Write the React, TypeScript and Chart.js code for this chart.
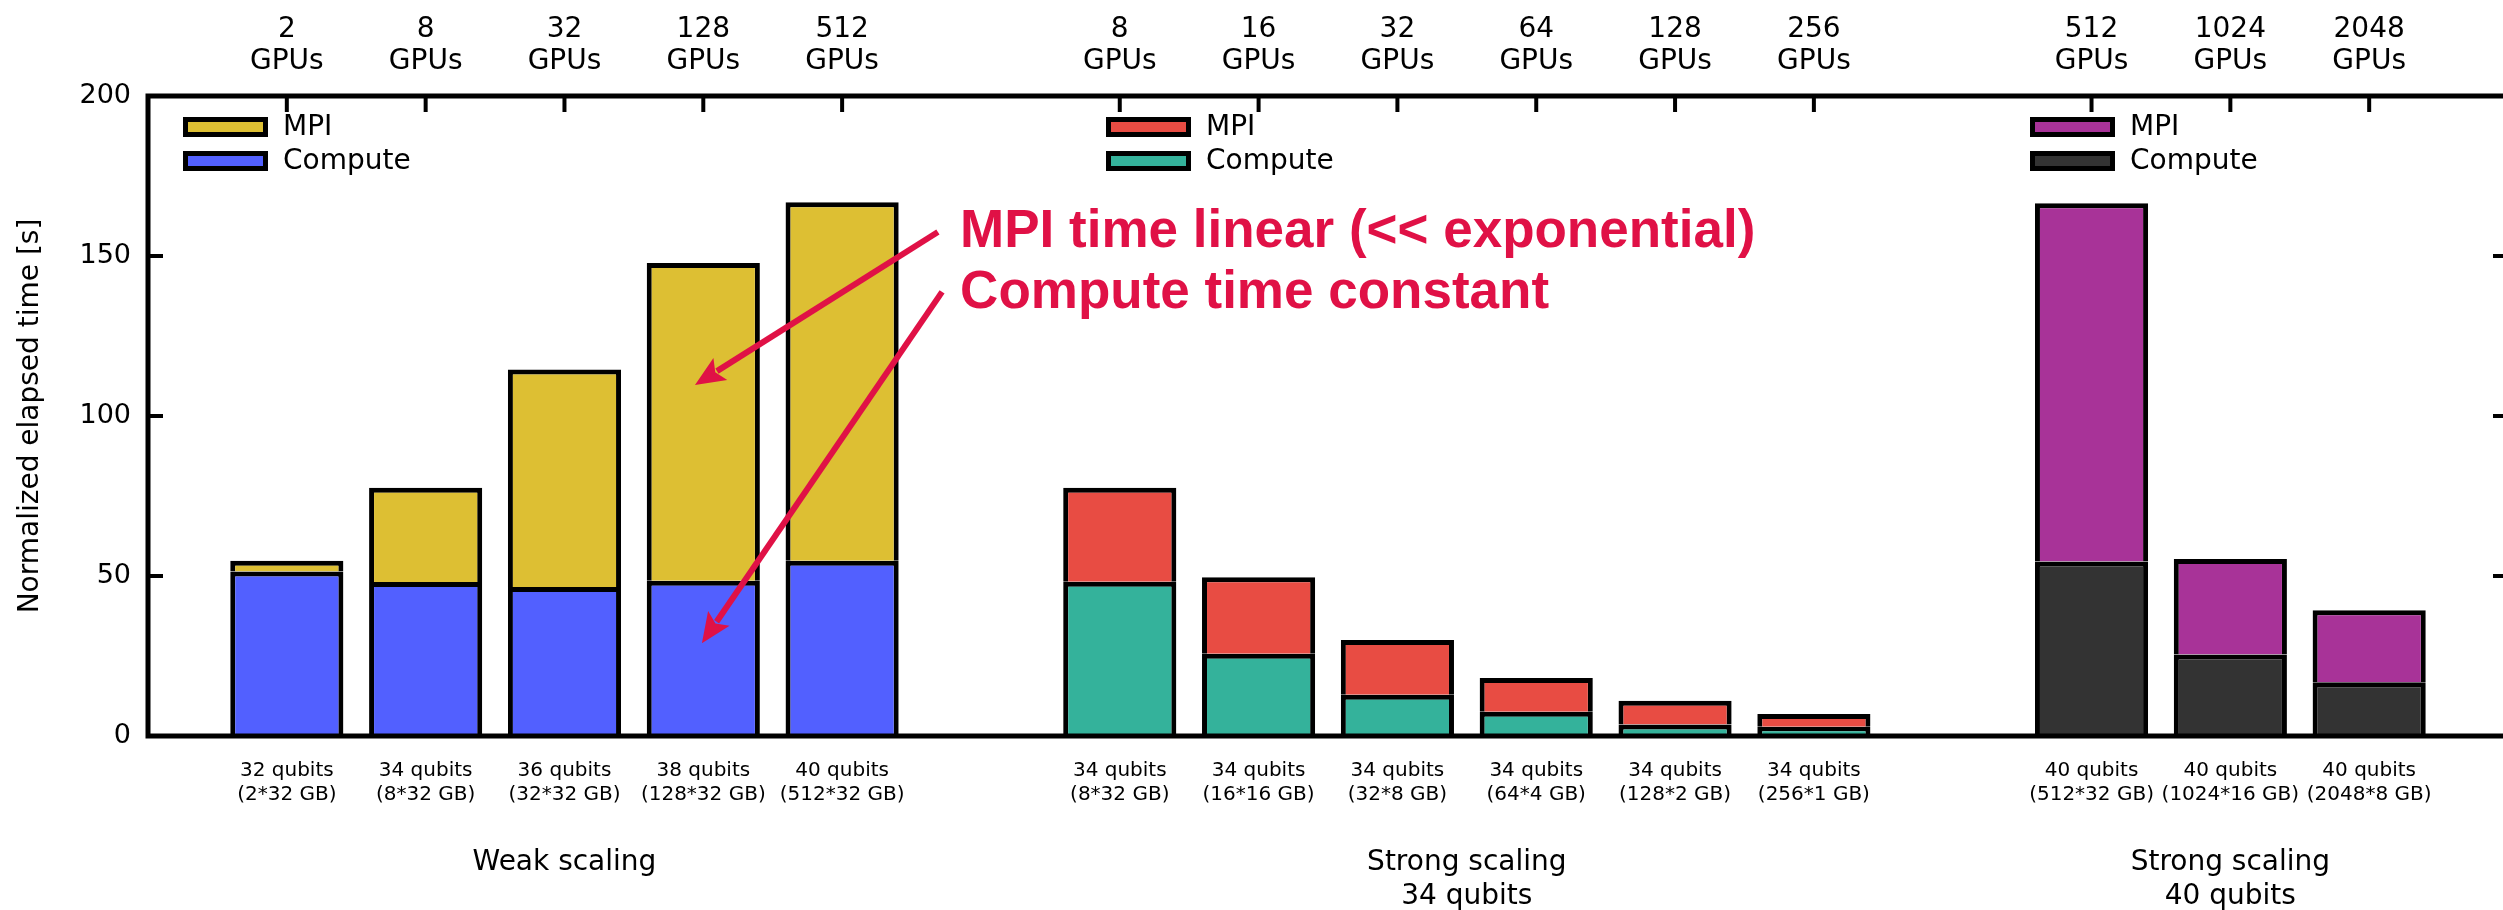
import React, { useEffect, useRef } from 'react';
import { Chart, registerables } from 'chart.js';

Chart.register(...registerables);

// ---------- data ----------
const weakGPUs = ['2', '8', '32', '128', '512'];
const strong34GPUs = ['8', '16', '32', '64', '128', '256'];
const strong40GPUs = ['512', '1024', '2048'];

const weakLabels = [
  ['32 qubits', '(2*32 GB)'],
  ['34 qubits', '(8*32 GB)'],
  ['36 qubits', '(32*32 GB)'],
  ['38 qubits', '(128*32 GB)'],
  ['40 qubits', '(512*32 GB)'],
];
const strong34Labels = [
  ['34 qubits', '(8*32 GB)'],
  ['34 qubits', '(16*16 GB)'],
  ['34 qubits', '(32*8 GB)'],
  ['34 qubits', '(64*4 GB)'],
  ['34 qubits', '(128*2 GB)'],
  ['34 qubits', '(256*1 GB)'],
];
const strong40Labels = [
  ['40 qubits', '(512*32 GB)'],
  ['40 qubits', '(1024*16 GB)'],
  ['40 qubits', '(2048*8 GB)'],
];

const groupTitles = [['Weak scaling'], ['Strong scaling', '34 qubits'], ['Strong scaling', '40 qubits']];

const weakCompute = [51.4, 48.1, 46.6, 48.5, 54.8];
const weakMPI = [3.4, 29.5, 67.9, 99.3, 112.0];
const strong34Compute = [48.2, 25.7, 12.9, 7.6, 3.6, 2.9];
const strong34MPI = [29.4, 23.9, 17.1, 10.5, 7.4, 4.0];
const strong40Compute = [54.5, 25.5, 16.8];
const strong40MPI = [112.0, 29.8, 22.5];

const seriesNames = ['MPI', 'Compute'];
const computeColors = ['#5260FF', '#34B29B', '#333333'];
const mpiColors = ['#DDBF33', '#E84C43', '#A83398'];

const yTicks = [0, 50, 100, 150, 200];

const annotationLines = ['MPI time linear (<< exponential)', 'Compute time constant'];

// ---------- build category slots ----------
const groupGPUs = [weakGPUs, strong34GPUs, strong40GPUs];
const groupLabels = [weakLabels, strong34Labels, strong40Labels];
const groupCompute = [weakCompute, strong34Compute, strong40Compute];
const groupMPI = [weakMPI, strong34MPI, strong40MPI];

const groupStart: number[] = [];
let cursor = 1;
groupGPUs.forEach((g) => {
  groupStart.push(cursor);
  cursor += g.length + 1;
});
const slotCount = cursor;

const bottomLabels: (string | string[])[] = new Array(slotCount).fill('');
const topLabels: (string | string[])[] = new Array(slotCount).fill('');
groupGPUs.forEach((g, gi) => {
  g.forEach((n, i) => {
    topLabels[groupStart[gi] + i] = [n, 'GPUs'];
    bottomLabels[groupStart[gi] + i] = groupLabels[gi][i];
  });
});

function place(gi: number, vals: number[]) {
  const arr: (number | null)[] = new Array(slotCount).fill(null);
  vals.forEach((v, i) => (arr[groupStart[gi] + i] = v));
  return arr;
}

const datasets: any[] = [];
groupCompute.forEach((vals, gi) => {
  datasets.push({
    label: 'Compute',
    data: place(gi, vals),
    backgroundColor: computeColors[gi],
  });
});
groupMPI.forEach((vals, gi) => {
  datasets.push({
    label: 'MPI',
    data: place(gi, vals),
    backgroundColor: mpiColors[gi],
  });
});

const FONT = '"DejaVu Sans"';
const RED = '#E01146';
const CANVAS_W = 2508;
const CANVAS_H = 910;

const decorPlugin = {
  id: 'decor',
  afterDatasetsDraw(chart: any) {
    const { ctx, chartArea } = chart;
    const { left, right, top, bottom } = chartArea;
    const y = chart.scales.y;
    const x = chart.scales.x;
    const xTop = chart.scales.xTop;
    ctx.save();
    ctx.strokeStyle = '#000';
    ctx.lineWidth = 5;
    ctx.lineCap = 'butt';
    ctx.strokeRect(left, top, right - left, bottom - top);

    // inward ticks
    ctx.lineWidth = 4;
    yTicks.forEach((v) => {
      const py = y.getPixelForValue(v);
      ctx.beginPath();
      ctx.moveTo(left, py);
      ctx.lineTo(left + 15, py);
      ctx.moveTo(right, py);
      ctx.lineTo(right - 15, py);
      ctx.stroke();
    });
    topLabels.forEach((l, i) => {
      if (!l || (Array.isArray(l) && l.length === 0)) return;
      const px = xTop.getPixelForTick(i);
      ctx.beginPath();
      ctx.moveTo(px, top);
      ctx.lineTo(px, top + 16);
      ctx.stroke();
    });

    // legends
    const legendX = [183, 1106, 2030];
    const legendY = 117;
    ctx.font = `28px ${FONT}`;
    ctx.textBaseline = 'middle';
    ctx.textAlign = 'left';
    legendX.forEach((lx, gi) => {
      const cols = [mpiColors[gi], computeColors[gi]];
      seriesNames.forEach((name, k) => {
        const sy = legendY + k * 34;
        ctx.fillStyle = cols[k];
        ctx.fillRect(lx + 2.5, sy + 2.5, 80, 15);
        ctx.lineWidth = 5;
        ctx.strokeStyle = '#000';
        ctx.strokeRect(lx + 2.5, sy + 2.5, 80, 15);
        ctx.fillStyle = '#000';
        ctx.fillText(name, lx + 100, sy + 11);
      });
    });

    // group titles
    ctx.textAlign = 'center';
    ctx.font = `28px ${FONT}`;
    ctx.fillStyle = '#000';
    groupTitles.forEach((lines, gi) => {
      const mid = groupStart[gi] + (groupGPUs[gi].length - 1) / 2;
      const px = x.getPixelForValue(mid);
      lines.forEach((t, k) => ctx.fillText(t, px, 863 + k * 34));
    });

    // y title
    ctx.save();
    ctx.translate(31, (top + bottom) / 2);
    ctx.rotate(-Math.PI / 2);
    ctx.fillText('Normalized elapsed time [s]', 0, 0);
    ctx.restore();

    // annotation
    ctx.fillStyle = RED;
    ctx.strokeStyle = RED;
    ctx.font = `bold 53px "Liberation Sans"`;
    ctx.textAlign = 'left';
    ctx.textBaseline = 'alphabetic';
    const tx = x.getPixelForValue(5.85);
    ctx.fillText(annotationLines[0], tx, y.getPixelForValue(152.8));
    ctx.fillText(annotationLines[1], tx, y.getPixelForValue(133.75));

    const arrows = [
      [5.69, 157.5, 3.94, 109.7],
      [5.72, 138.8, 3.99, 29.0],
    ];
    arrows.forEach(([x0, y0, x1, y1]) => {
      const ax = x.getPixelForValue(x0);
      const ay = y.getPixelForValue(y0);
      const bx = x.getPixelForValue(x1);
      const by = y.getPixelForValue(y1);
      const ang = Math.atan2(by - ay, bx - ax);
      const hl = 30;
      const hw = 13;
      const baseX = bx - hl * Math.cos(ang);
      const baseY = by - hl * Math.sin(ang);
      ctx.lineWidth = 6;
      ctx.beginPath();
      ctx.moveTo(ax, ay);
      ctx.lineTo(baseX + 4 * Math.cos(ang), baseY + 4 * Math.sin(ang));
      ctx.stroke();
      ctx.beginPath();
      ctx.moveTo(bx, by);
      ctx.lineTo(baseX - hw * Math.sin(ang), baseY + hw * Math.cos(ang));
      ctx.lineTo(baseX + 6 * Math.cos(ang), baseY + 6 * Math.sin(ang));
      ctx.lineTo(baseX + hw * Math.sin(ang), baseY - hw * Math.cos(ang));
      ctx.closePath();
      ctx.fill();
    });
    ctx.restore();
  },
};

export default function App() {
  const ref = useRef<HTMLCanvasElement>(null);
  useEffect(() => {
    const canvas = ref.current!;
    Chart.defaults.font.family = FONT;
    Chart.defaults.color = '#000';
    const chart = new Chart(canvas, {
      type: 'bar',
      data: { labels: bottomLabels as any, datasets },
      options: {
        animation: false,
        responsive: false,
        devicePixelRatio: 1,
        layout: { padding: 0 },
        datasets: {
          bar: {
            borderColor: '#000',
            borderWidth: 5,
            barPercentage: 0.815,
            categoryPercentage: 1,
          } as any,
        },
        plugins: { legend: { display: false }, tooltip: { enabled: false }, title: { display: false } },
        scales: {
          x: {
            type: 'category',
            position: 'bottom',
            stacked: true,
            offset: false,
            grid: { display: false, drawTicks: false },
            border: { display: false },
            ticks: {
              autoSkip: false,
              maxRotation: 0,
              minRotation: 0,
              padding: 23,
              font: { size: 20, lineHeight: 1.2 },
              color: '#000',
            },
            afterFit: (s: any) => {
              s.height = 174;
              s.paddingLeft = 0;
              s.paddingRight = 0;
            },
          },
          xTop: {
            type: 'category',
            position: 'top',
            labels: topLabels as any,
            offset: false,
            grid: { display: false, drawTicks: false },
            border: { display: false },
            ticks: {
              autoSkip: false,
              maxRotation: 0,
              minRotation: 0,
              padding: 18,
              font: { size: 28, lineHeight: 1.15 },
              color: '#000',
            },
            afterFit: (s: any) => {
              s.height = 96;
              s.paddingLeft = 0;
              s.paddingRight = 0;
            },
          },
          y: {
            stacked: true,
            min: 0,
            max: 200,
            grid: { display: false, drawTicks: false },
            border: { display: false },
            ticks: { stepSize: 50, padding: 17, font: { size: 27 }, color: '#000' },
            afterFit: (s: any) => {
              s.width = 148;
              s.paddingTop = 0;
              s.paddingBottom = 0;
            },
          },
        } as any,
      },
      plugins: [decorPlugin],
    });
    return () => chart.destroy();
  }, []);
  return (
    <div
      style={{
        position: 'fixed',
        left: 0,
        top: 0,
        width: CANVAS_W,
        height: CANVAS_H,
        background: '#fff',
      }}
    >
      <canvas
        ref={ref}
        width={CANVAS_W}
        height={CANVAS_H}
        style={{ display: 'block', width: CANVAS_W, height: CANVAS_H }}
      />
    </div>
  );
}
